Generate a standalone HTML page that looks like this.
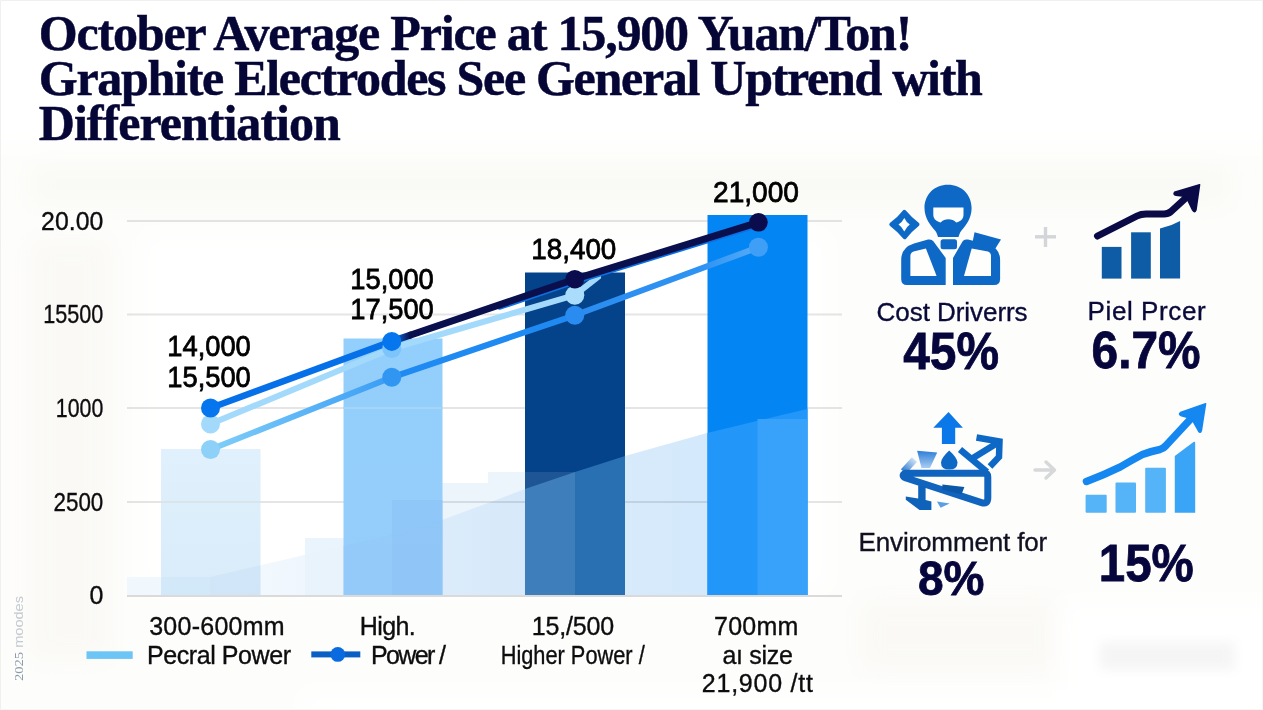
<!DOCTYPE html>
<html lang="en">
<head>
<meta charset="utf-8">
<title>October Average Price at 15,900 Yuan/Ton! Graphite Electrodes See General Uptrend with Differentiation</title>
<style>
html,body{margin:0;padding:0;background:#fdfdfb;}
body{width:1263px;height:710px;overflow:hidden;position:relative;}
svg{position:absolute;left:0;top:0;display:block;}
.t{font-family:"Liberation Serif",serif;font-weight:bold;fill:#060636;font-size:50px;stroke:#060636;stroke-width:0.5px;}
.s{font-family:"Liberation Sans",sans-serif;fill:#0d0d0f;stroke:#0d0d0f;stroke-width:0.35px;}
.n{font-family:"Liberation Sans",sans-serif;font-weight:bold;fill:#06063c;font-size:51px;stroke:#06063c;stroke-width:0.8px;}
</style>
</head>
<body>
<svg width="1263" height="710" viewBox="0 0 1263 710">
<defs>
<linearGradient id="gC1" x1="210" y1="0" x2="392" y2="0" gradientUnits="userSpaceOnUse"><stop offset="0" stop-color="#80cff9"/><stop offset="1" stop-color="#3a9cf4"/></linearGradient>
<linearGradient id="gC3" x1="575" y1="0" x2="758" y2="0" gradientUnits="userSpaceOnUse"><stop offset="0" stop-color="#2a8cf0"/><stop offset="0.7" stop-color="#2f93f3"/><stop offset="1" stop-color="#56acf7"/></linearGradient>
<linearGradient id="gA2" x1="395" y1="0" x2="410" y2="0" gradientUnits="userSpaceOnUse"><stop offset="0" stop-color="#0872e9"/><stop offset="1" stop-color="#0a0f4e"/></linearGradient>
<filter id="blur6" filterUnits="userSpaceOnUse" x="0" y="0" width="1263" height="710"><feGaussianBlur stdDeviation="6"/></filter>
<filter id="blur12" filterUnits="userSpaceOnUse" x="-60" y="-60" width="1400" height="850"><feGaussianBlur stdDeviation="12"/></filter>
<linearGradient id="gArea" x1="210" y1="0" x2="807" y2="0" gradientUnits="userSpaceOnUse"><stop offset="0" stop-color="#f4f9fe"/><stop offset="0.25" stop-color="#ecf5fd"/><stop offset="0.5" stop-color="#e0effc"/><stop offset="0.72" stop-color="#d6eafb"/><stop offset="1" stop-color="#d0e7fb"/></linearGradient>
<linearGradient id="gB1" x1="0" y1="449" x2="0" y2="596" gradientUnits="userSpaceOnUse"><stop offset="0" stop-color="#e0f0fc"/><stop offset="1" stop-color="#d9ecfa"/></linearGradient>
<linearGradient id="gB2" x1="0" y1="338" x2="0" y2="596" gradientUnits="userSpaceOnUse"><stop offset="0" stop-color="#93cffc"/><stop offset="1" stop-color="#96cdfa"/></linearGradient>
<clipPath id="cB1"><rect x="161" y="449" width="99.5" height="147"/></clipPath>
<clipPath id="cB2"><rect x="343.5" y="338.5" width="99" height="258"/></clipPath>
<clipPath id="cB3"><rect x="525" y="272.5" width="100" height="324"/></clipPath>
<clipPath id="cB4"><rect x="707.5" y="215" width="100" height="381"/></clipPath>
<linearGradient id="gFade" x1="903" y1="472" x2="915" y2="459" gradientUnits="userSpaceOnUse"><stop offset="0" stop-color="#2a78cc"/><stop offset="1" stop-color="#d5e6f8"/></linearGradient>
<linearGradient id="gTrap" x1="0" y1="451" x2="0" y2="468" gradientUnits="userSpaceOnUse"><stop offset="0" stop-color="#2f7fd8"/><stop offset="1" stop-color="#a9cdf2"/></linearGradient>
</defs>
<!-- backgrounds -->
<rect x="0" y="0" width="1263" height="710" fill="#fdfdfb"/>
<rect x="30" y="165" width="1200" height="40" fill="#f9f9f5" filter="url(#blur12)"/>
<rect x="30" y="240" width="80" height="420" fill="#faf9f6" filter="url(#blur12)"/>
<rect x="860" y="600" width="200" height="70" fill="#faf9f6" filter="url(#blur12)"/>
<rect x="-20" y="-20" width="1303" height="168" fill="#ffffff" filter="url(#blur12)"/>
<rect x="140" y="232" width="690" height="360" fill="#ffffff" filter="url(#blur12)"/>
<rect x="1060" y="600" width="230" height="130" fill="#ffffff" filter="url(#blur12)"/>
<rect x="300" y="690" width="800" height="40" fill="#ffffff" filter="url(#blur12)"/>
<rect x="1100" y="642" width="135" height="28" fill="#f3f3f3" filter="url(#blur6)" opacity="0.8"/>
<path d="M0.5 710 L0.5 0.5 L1263 0.5" fill="none" stroke="#f0f0f0" stroke-width="1"/>
<path d="M0 709.5 L1262.5 709.5 L1262.5 0" fill="none" stroke="#f6f6f6" stroke-width="1"/>
<!-- title -->
<text class="t" x="38.8" y="50" textLength="873.5" lengthAdjust="spacing">October Average Price at 15,900 Yuan/Ton!</text>
<text class="t" x="38.8" y="94.8" textLength="944" lengthAdjust="spacing">Graphite Electrodes See General Uptrend with</text>
<text class="t" x="38.8" y="139.5" textLength="302" lengthAdjust="spacing">Differentiation</text>

<!-- overlays on white -->
<polygon points="210,577 343,546 400,533 442,520 480,506 525,489 575,472 625,456 707,433 807,409 807,596 210,596" fill="url(#gArea)"/>
<rect x="127" y="577" width="83" height="19" fill="#f0f7fd"/>
<rect x="305" y="538" width="87" height="58" fill="#e6f2fc" opacity="0.85"/>
<rect x="442" y="483" width="46" height="113" fill="#c9e0f6" opacity="0.35"/>
<rect x="488" y="472" width="87" height="124" fill="#c9e0f6" opacity="0.35"/>
<!-- gridlines -->
<g stroke="#000" stroke-opacity="0.1" stroke-width="2">
<line x1="127" y1="221" x2="842" y2="221"/>
<line x1="127" y1="314.5" x2="842" y2="314.5"/>
<line x1="127" y1="408" x2="842" y2="408"/>
<line x1="127" y1="502" x2="842" y2="502"/>
</g>
<!-- bars -->
<rect x="161" y="449" width="99.5" height="147" fill="url(#gB1)"/>
<rect x="343.5" y="338.5" width="99" height="258" fill="url(#gB2)"/>
<rect x="525" y="272.5" width="100" height="324" fill="#04428a"/>
<rect x="707.5" y="215" width="100" height="381" fill="#0485f4"/>
<!-- overlays inside bars -->
<g clip-path="url(#cB1)"><polygon points="210,577 343,546 343,596 210,596" fill="#c5e0f7" opacity="0.45"/><rect x="127" y="577" width="83" height="19" fill="#c5e0f7" opacity="0.3"/>
<line x1="127" y1="502" x2="842" y2="502" stroke="#d9e2e8" stroke-width="2" opacity="0.8"/></g>
<g clip-path="url(#cB2)"><rect x="392" y="500" width="51" height="97" fill="#89c2f5" opacity="0.5"/><polygon points="343,546 400,533 442,520 480,506 480,596 343,596" fill="#8fc6f6" opacity="0.35"/>
<line x1="127" y1="408" x2="842" y2="408" stroke="#a9d6f8" stroke-width="2" opacity="0.8"/></g>
<g clip-path="url(#cB3)"><polygon points="480,506 525,489 575,472 625,456 707,433 707,596 480,596" fill="#2970b3"/><rect x="525" y="472" width="50" height="125" fill="#ffffff" opacity="0.1"/></g>
<g clip-path="url(#cB4)"><polygon points="625,456 707,433 807,409 820,406 820,596 625,596" fill="#2296f9"/><rect x="757.5" y="419" width="50" height="177" fill="#38a2fa"/></g>
<line x1="127" y1="596" x2="842" y2="596" stroke="#dadada" stroke-width="2"/>

<!-- lines -->
<g fill="none" stroke-width="6" stroke-linecap="round" stroke-linejoin="round">
<polyline points="210.5,424 391.8,348.5 574.8,295.2 598,277" stroke="#a3dafb"/>
<polyline points="210.5,449.5 391.8,377.3" stroke="url(#gC1)"/>
<polyline points="391.8,377.3 574.8,315.3" stroke="#1f8af1"/>
<polyline points="574.8,315.3 758.4,247.3" stroke="url(#gC3)"/>
<polyline points="500,307 574.8,281.7 758.4,224.8" stroke="#0d6fe0" stroke-width="5.5"/>
<polyline points="410,335.2 574.8,279.2 758.4,222.3" stroke="#0a0f4e" stroke-width="7"/>
<polyline points="391.8,341.4 410,335.2" stroke="url(#gA2)" stroke-width="7"/>
<polyline points="210.5,408 391.8,341.4" stroke="#0670e8" stroke-width="6.5"/>
</g>
<circle cx="210.5" cy="424" r="9.5" fill="#a3dafb"/>
<circle cx="210.5" cy="449.5" r="9.5" fill="#8dd0f8"/>
<circle cx="391.8" cy="348.5" r="9.5" fill="#7cc4f9"/>
<circle cx="391.8" cy="377.3" r="9.5" fill="#3096f2"/>
<circle cx="574.8" cy="295.2" r="9.5" fill="#a9ddfb"/>
<circle cx="574.8" cy="315.3" r="9.5" fill="#2a8cf0"/>
<circle cx="758.4" cy="247.3" r="9.5" fill="#3f9ff6"/>
<circle cx="210.5" cy="408" r="9.5" fill="#0676ee"/>
<circle cx="391.8" cy="341.4" r="9.5" fill="#0676ee"/>
<circle cx="574.8" cy="279.2" r="9.3" fill="#0a0c4e"/>
<circle cx="758.4" cy="222.3" r="9.3" fill="#0a0c4e"/>

<!-- y labels -->
<g class="s" font-size="25" text-anchor="end">
<text x="103.3" y="229.8" textLength="62.2" lengthAdjust="spacingAndGlyphs">20.00</text>
<text x="103.3" y="323" textLength="60" lengthAdjust="spacingAndGlyphs">15500</text>
<text x="103.3" y="416.8" textLength="47.5" lengthAdjust="spacingAndGlyphs">1000</text>
<text x="103.3" y="510.6" textLength="49.8" lengthAdjust="spacingAndGlyphs">2500</text>
<text x="103.3" y="604">0</text>
</g>
<!-- data labels -->
<g class="s" font-size="30" style="fill:#000;stroke:#000;stroke-width:0.8px">
<text x="167.3" y="356" textLength="83.5" lengthAdjust="spacingAndGlyphs">14,000</text>
<text x="167.3" y="387.2" textLength="83.5" lengthAdjust="spacingAndGlyphs">15,500</text>
<text x="350.3" y="288.5" textLength="83.5" lengthAdjust="spacingAndGlyphs">15,000</text>
<text x="350.3" y="319" textLength="83.5" lengthAdjust="spacingAndGlyphs">17,500</text>
<text x="531.3" y="258.5" textLength="85" lengthAdjust="spacingAndGlyphs">18,400</text>
<text x="713" y="202.3" textLength="86" lengthAdjust="spacingAndGlyphs">21,000</text>
</g>
<!-- x labels -->
<g class="s" font-size="25">
<text x="149.2" y="635" textLength="135.5" lengthAdjust="spacing">300-600mm</text>
<text x="147" y="663.5" textLength="144" lengthAdjust="spacing">Pecral Power</text>
<text x="359.8" y="635" textLength="56" lengthAdjust="spacing">High.</text>
<text x="371" y="663.5" textLength="75" lengthAdjust="spacing">Power /</text>
<text x="531.8" y="635" textLength="82.3" lengthAdjust="spacing">15,/500</text>
<text x="500.7" y="663.5" textLength="144" lengthAdjust="spacingAndGlyphs">Higher Power /</text>
<text x="714" y="635" textLength="84.4" lengthAdjust="spacing">700mm</text>
<text x="722.4" y="663.5" textLength="70.6" lengthAdjust="spacing">aı size</text>
<text x="701.8" y="692" textLength="111.2" lengthAdjust="spacing">21,900 /tt</text>
</g>
<!-- legend markers -->
<rect x="86.5" y="651.3" width="46.2" height="7.6" fill="#6cc5f5"/>
<rect x="311.3" y="651.4" width="49" height="6" fill="#0a5fc4"/>
<circle cx="337.8" cy="654.4" r="7.4" fill="#0a6be0"/>

<!-- right panel text -->
<g class="s" font-size="26">
<text x="876.6" y="320.8" textLength="151" lengthAdjust="spacing" style="fill:#0a0a3a;stroke:#0a0a3a">Cost Driverrs</text>
<text x="1087.6" y="320" textLength="118" lengthAdjust="spacing" style="fill:#0a0a3a;stroke:#0a0a3a">Piel Prcer</text>
<text x="858.6" y="550.5" textLength="188.6" lengthAdjust="spacing" style="fill:#111122;stroke:#111122">Enviromment for</text>
</g>
<g class="n">
<text x="903.2" y="368.8" textLength="95.8" lengthAdjust="spacingAndGlyphs">45%</text>
<text x="1091.6" y="368.2" textLength="109" lengthAdjust="spacingAndGlyphs">6.7%</text>
<text x="918" y="595.3" textLength="66.5" lengthAdjust="spacingAndGlyphs" style="font-size:49px">8%</text>
<text x="1098.8" y="580.8" textLength="95" lengthAdjust="spacingAndGlyphs">15%</text>
</g>
<text transform="translate(23,681) rotate(-90)" font-family="Liberation Sans, sans-serif" font-size="13" fill="#c3cad1" textLength="85" lengthAdjust="spacingAndGlyphs"><tspan fill="#8c9aac" font-family="Liberation Serif, serif">2025</tspan> moodes</text>
<!-- ICONS -->
<!-- icon 1: person -->
<g fill="#0e68c6">
<path d="M947.9 184.7 C961.5 184.7 971.6 194.5 971.6 208 C971.6 218 966 225.5 961.5 230.5 C959.5 233 959 235.5 958.5 237 L938 237 C937.5 235.5 937 233 935 230.5 C930.5 225.5 924.5 218 924.5 208 C924.5 194.5 934.5 184.7 947.9 184.7 Z"/>
<rect x="940.6" y="239.2" width="16.4" height="10" rx="2.5"/>
<path d="M928 239.6 Q931.5 238.8 933.5 241.5 L945.7 258 L945.7 285 L907 285 Q901.2 285 901.2 279 L901.2 260 Q901.2 247.5 914 243.5 Z"/>
<path d="M968 239.6 Q964 238.8 962.5 241.5 L953 258 L953 285 L994 285 Q1000.1 285 1000.1 279 L1000.1 260 Q1000.1 249 990 245 Z"/>
<path d="M974.5 232.3 L1001 239.6 L994.6 249.7 L972.6 242.3 Z"/>
<path d="M904.3 211.9 Q910.5 219.3 917.5 224.4 Q910.5 229.8 904.7 237.2 Q898.5 229.8 891.3 224.4 Q898.5 219.3 904.3 211.9 Z" stroke="#0e68c6" stroke-width="4" stroke-linejoin="round"/>
</g>
<g fill="#fefefd">
<path d="M933.3 207.5 L963.5 207.5 L963.5 215 Q963.5 220 958 222 L956.2 222.5 Q953 219.3 948.4 219.3 Q943.8 219.3 940.6 222.5 L939 222 Q933.3 220 933.3 215 Z"/>
<path d="M913.5 251.5 L925.9 248.4 L936.6 275.9 L910.4 275.9 L910.4 256 Q910.4 252.5 913.5 251.5 Z"/>
<path d="M988 251.5 L971.7 248.4 L964 275.9 L991 275.9 L991 256 Q991 252.5 988 251.5 Z"/>
<path d="M904.3 218 Q906.5 222.5 909.8 224.6 Q906.5 227 904.3 231.4 Q902 227 898.5 224.6 Q902 222.5 904.3 218 Z"/>
</g>
<!-- plus -->
<g stroke="#d3d6d9" stroke-width="3.4" fill="none"><line x1="1035" y1="236.8" x2="1056" y2="236.8"/><line x1="1045.5" y1="227" x2="1045.5" y2="247"/></g>
<!-- icon 2: bars + navy arrow -->
<g fill="#0e5ca6">
<rect x="1101.8" y="246.9" width="19.7" height="31.7"/>
<rect x="1131.1" y="232.3" width="19.7" height="46.3"/>
<path d="M1160 228.6 Q1171 226 1180.1 220.9 L1180.1 278.6 L1160 278.6 Z"/>
</g>
<path d="M1097.5 236 L1137 216 Q1141 214 1146 214 L1164 214 Q1168 214 1171 211.5 L1188.5 195.5" fill="none" stroke="#0a0a46" stroke-width="7" stroke-linecap="round" stroke-linejoin="round"/>
<path d="M1199.6 184.7 L1174.5 192.3 Q1173 194.5 1176 195.2 L1186 196.5 L1192.5 210 Q1194.5 213.5 1196 210 Z" fill="#0a0a46" stroke="#0a0a46" stroke-width="1.5" stroke-linejoin="round"/>
<!-- icon 3: environment -->
<g fill="#0a78e8">
<path d="M948.5 411.9 L962.9 427.8 L955.2 427.8 L955.2 444 L941.9 444 L941.9 427.8 L933.3 427.8 Z"/>
</g>
<g fill="none" stroke="#0e68c6" stroke-width="6.5" stroke-linejoin="miter">
<path d="M976.5 437.5 L999.5 441.5 L999 457 L990 466.5"/>
<path d="M999 442 L973 458"/>
<path d="M960 449.5 L987 472"/>
</g>
<path d="M949.2 450.4 Q957.5 458 957.5 462.5 Q957.5 469.6 949.2 469.6 Q941 469.6 941 462.5 Q941 458 949.2 450.4 Z" fill="#0e68c6"/>
<path d="M917.1 450.8 L937.2 452.6 L930 468 L921.5 468 Z" fill="url(#gTrap)"/>
<path d="M903.5 471.5 L914.5 459.5" fill="none" stroke="url(#gFade)" stroke-width="7"/>
<path d="M905.5 473.2 L984 473.2 Q987.8 473.2 987.8 477 L987.8 498 Q987.8 504.5 981.5 502.6 L906 478 Q900.5 475.5 905.5 473.2 Z" fill="none" stroke="#1064be" stroke-width="7" stroke-linejoin="round"/>
<path d="M942.4 484.6 L964.4 487 L961.6 494.3 L942.4 489.7 Z" fill="#0b57a8"/>
<path d="M918.2 485.2 L925.6 487 L925.6 500 L931.4 501.6 L931.4 509.9 L919.5 509.9 L905.8 499.8 L905.8 496.5 L918.2 498.5 Z" fill="#0e62ba"/>
<path d="M936.9 501.6 L949.7 503.5 L940.6 507.7 Z" fill="#5a9fe4"/>
<!-- grey arrow -->
<g stroke="#d6d8da" stroke-width="3.4" fill="none" stroke-linecap="round" stroke-linejoin="round"><path d="M1035 470 L1054 470 M1046 462 L1054.5 470 L1046 478"/></g>
<!-- icon 4: light bars + arrow -->
<g fill="#55b3f8">
<rect x="1085.6" y="494.8" width="21.1" height="17.9" rx="1"/>
<rect x="1115.5" y="482.5" width="20.5" height="30.2" rx="1"/>
<rect x="1145.2" y="467.8" width="20.7" height="44.9" rx="1"/>
</g>
<path d="M1174.8 455.9 L1193.5 442 Q1195.2 441 1195.2 443 L1195.2 512.7 L1174.8 512.7 Z" fill="#3aa5f7"/>
<path d="M1086.5 481.5 Q1105 474.5 1120.4 466.9 Q1132 460 1142.4 454.5 Q1152 451 1160 449.5 Q1163.5 448.5 1166 445.5 L1192 417.5" fill="none" stroke="#1487f0" stroke-width="7.5" stroke-linecap="round" stroke-linejoin="round"/>
<path d="M1205.6 403.7 L1180.5 412.5 Q1178 414.5 1181.5 415.8 L1191.5 418.5 L1198.5 431 Q1200.5 434 1201.5 430 Z" fill="#1487f0" stroke="#1487f0" stroke-width="1.5" stroke-linejoin="round"/>
<!-- /ICONS -->
</svg>
</body>
</html>
